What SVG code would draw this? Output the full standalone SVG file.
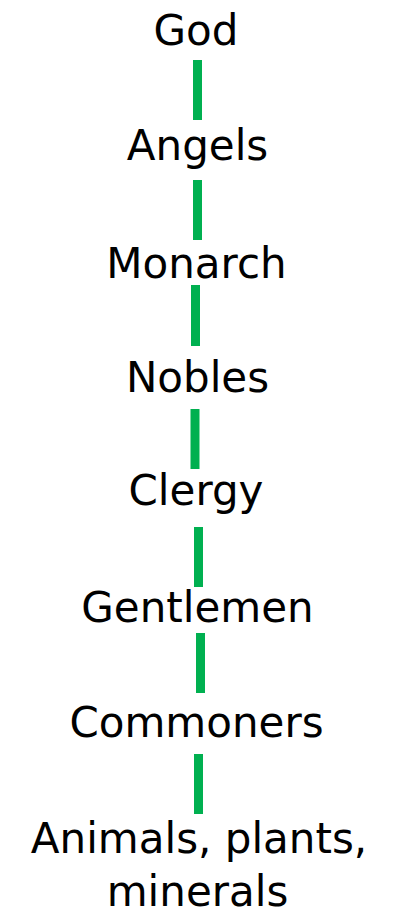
<svg xmlns="http://www.w3.org/2000/svg" width="398" height="914" viewBox="0 0 398 914">
<style>
text{font-family:"Comic Sans MS","DejaVu Sans",sans-serif;font-size:42px;fill:#000;text-anchor:middle}
.c line{stroke:#00B050;stroke-width:9}
</style>
<rect width="398" height="914" fill="#fff"/>
<g class="c" id="connectors">
<line x1="197.5" y1="60" x2="197.5" y2="120"/>
<line x1="197.5" y1="180" x2="197.5" y2="240"/>
<line x1="195.5" y1="285" x2="195.5" y2="346"/>
<line x1="195" y1="409" x2="195" y2="469"/>
<line x1="198.5" y1="527" x2="198.5" y2="587"/>
<line x1="200.5" y1="633" x2="200.5" y2="693"/>
<line x1="198.5" y1="754" x2="198.5" y2="814"/>
</g>
<g id="god"><text x="196" y="45">God</text></g>
<g id="angels"><text x="197.5" y="160">Angels</text></g>
<g id="monarch"><text x="196.5" y="278">Monarch</text></g>
<g id="nobles"><text x="197.5" y="392">Nobles</text></g>
<g id="clergy"><text x="196" y="505">Clergy</text></g>
<g id="gentlemen"><text x="197.5" y="622">Gentlemen</text></g>
<g id="commoners"><text x="196.5" y="737">Commoners</text></g>
<g id="animals"><text x="199" y="853">Animals, plants,</text><text x="197.5" y="906">minerals</text></g>
</svg>
